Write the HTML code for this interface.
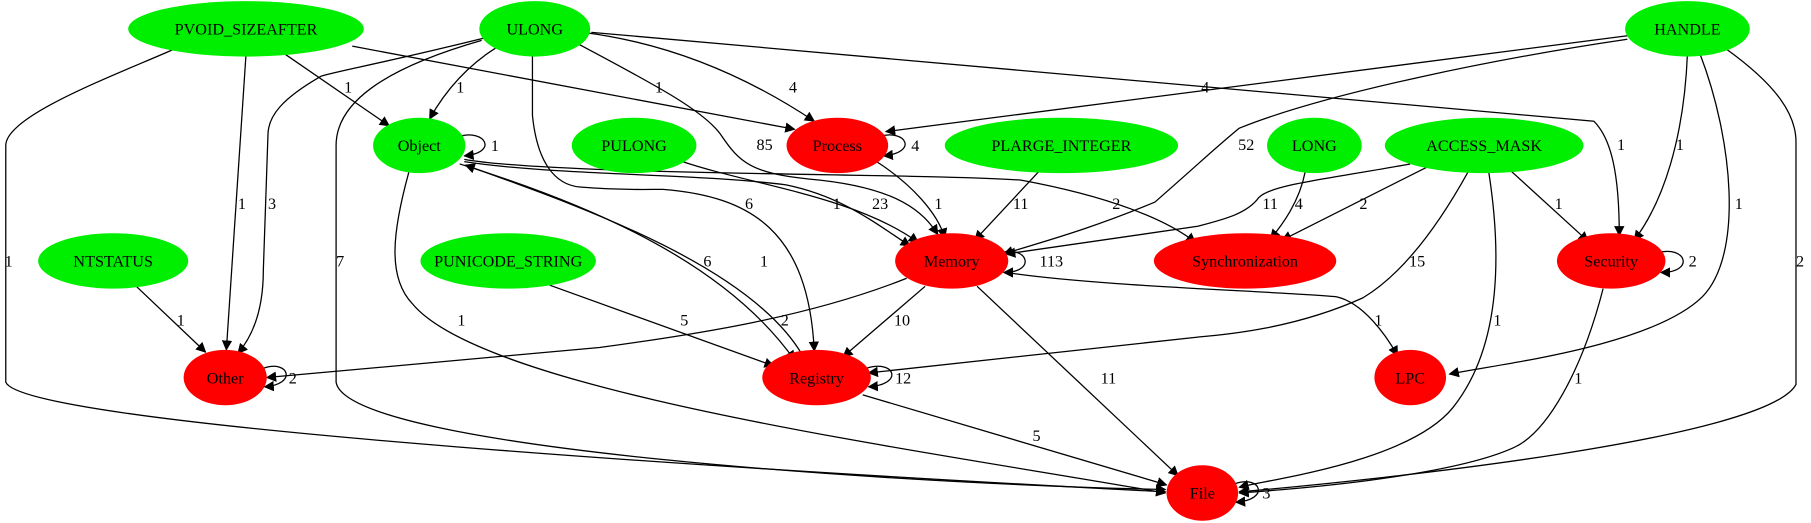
<!DOCTYPE html>
<html><head><meta charset="utf-8"><style>
html,body{margin:0;padding:0;background:#fff;}
svg{display:block;}
text{font-family:"Liberation Serif",serif;font-size:14px;fill:#000;}
.e{fill:none;stroke:#000;stroke-width:1.1;marker-end:url(#a);}
</style></head><body>
<svg width="1811" height="523" viewBox="0 0 1568 453" preserveAspectRatio="none" xmlns="http://www.w3.org/2000/svg">
<defs><marker id="a" viewBox="0 0 10 10" refX="9" refY="5" markerWidth="9" markerHeight="9" markerUnits="userSpaceOnUse" orient="auto"><path d="M0,0 L10,5 L0,10 z" fill="#000"/></marker></defs>
<g>
<path class="e" d="M152,42 C100,65 5,100 5,126 L5,331 C20,370 700,410 1009,426"/>
<path class="e" d="M213,47 L196,303"/>
<path class="e" d="M244,45 L337,109"/>
<path class="e" d="M305,40 L688,112"/>
<path class="e" d="M430,41 C400,60 382,85 372,103"/>
<path class="e" d="M419,33 C330,55 290,62 278,66 C245,85 232,100 232,117 L228,234 C228,270 218,292 206,306"/>
<path class="e" d="M417,35 C330,60 291,90 291,126 L291,331 C300,390 800,420 1009,424"/>
<path class="e" d="M495,35 C560,70 610,95 625,118 C640,140 650,150 700,155 C780,162 800,185 812,203"/>
<path class="e" d="M505,28 C560,35 630,55 705,105"/>
<path class="e" d="M512,28 L1380,105 C1395,120 1402,150 1402,204"/>
<path class="e" d="M461,48 L461,100 C465,140 480,160 502,162 C540,165 560,164 574,164 C650,170 700,200 705,304"/>
<path class="e" d="M1409,31 L767,114"/>
<path class="e" d="M1409,34 C1300,50 1150,80 1073,111 C1050,130 1040,140 1000,175 C940,200 900,210 869,220"/>
<path class="e" d="M1461,47 C1458,120 1440,175 1415,208"/>
<path class="e" d="M1472,47 C1500,120 1510,220 1474,257 C1430,300 1300,315 1255,324"/>
<path class="e" d="M1494,42 C1540,75 1555,100 1555,123 L1555,333 C1530,380 1200,415 1073,426"/>
<path class="e" d="M354,149 C340,200 335,240 357,263 C420,340 800,390 1009,427"/>
<path class="e" d="M402,140 C480,152 600,150 680,160 C730,170 760,195 788,213"/>
<path class="e" d="M402,138 C480,152 800,150 884,156 C960,170 1010,190 1035,210"/>
<path class="e" d="M398,142 C520,180 630,230 688,312"/>
<path class="e" d="M695,308 C650,230 500,178 403,143"/>
<path class="e" d="M591,140 C650,160 740,170 795,210"/>
<path class="e" d="M759,140 C790,160 812,185 818,206"/>
<path class="e" d="M899,149 L844,208"/>
<path class="e" d="M1130,149 C1125,175 1110,195 1100,207"/>
<path class="e" d="M1221,142 C1150,155 1100,160 1090,171 C1080,185 1060,190 1037,196 L871,220"/>
<path class="e" d="M1235,145 L1110,208"/>
<path class="e" d="M1271,149 C1240,205 1210,240 1180,258 C1120,285 1060,290 1037,292 L752,323"/>
<path class="e" d="M1289,149 C1300,220 1300,300 1258,353 C1220,400 1100,415 1073,422"/>
<path class="e" d="M1307,147 L1375,209"/>
<path class="e" d="M1388,250 C1370,320 1340,375 1310,388 C1250,415 1100,425 1073,427"/>
<path class="e" d="M118,248 L178,305"/>
<path class="e" d="M476,247 L670,317"/>
<path class="e" d="M785,241 C700,275 600,290 519,301 L231,327"/>
<path class="e" d="M801,248 L730,309"/>
<path class="e" d="M871,236 C950,248 1100,252 1157,257 C1180,262 1200,290 1210,308"/>
<path class="e" d="M846,248 L1020,412"/>
<path class="e" d="M747,342 L1010,420"/>
<path class="e" d="M398,118 C420,112 432,132 402,135"/>
<path class="e" d="M762,118 C785,112 795,132 765,135"/>
<path class="e" d="M866,219 C890,212 898,236 869,236"/>
<path class="e" d="M750,319 C775,311 783,333 752,335"/>
<path class="e" d="M228,319 C250,311 258,333 229,335"/>
<path class="e" d="M1435,219 C1460,212 1468,236 1438,236"/>
<path class="e" d="M1069,419 C1092,411 1100,433 1070,435"/>
</g>
<g>
<ellipse cx="213" cy="25" rx="102" ry="24" fill="#00ee00"/><text x="213" y="30" text-anchor="middle">PVOID_SIZEAFTER</text>
<ellipse cx="463" cy="25" rx="48" ry="24" fill="#00ee00"/><text x="463" y="30" text-anchor="middle">ULONG</text>
<ellipse cx="1461" cy="25" rx="54" ry="24" fill="#00ee00"/><text x="1461" y="30" text-anchor="middle">HANDLE</text>
<ellipse cx="363" cy="126" rx="40" ry="24" fill="#00ee00"/><text x="363" y="131" text-anchor="middle">Object</text>
<ellipse cx="549" cy="126" rx="54" ry="24" fill="#00ee00"/><text x="549" y="131" text-anchor="middle">PULONG</text>
<ellipse cx="725" cy="126" rx="44" ry="24" fill="#ff0000"/><text x="725" y="131" text-anchor="middle">Process</text>
<ellipse cx="919" cy="126" rx="101" ry="24" fill="#00ee00"/><text x="919" y="131" text-anchor="middle">PLARGE_INTEGER</text>
<ellipse cx="1138" cy="126" rx="41" ry="24" fill="#00ee00"/><text x="1138" y="131" text-anchor="middle">LONG</text>
<ellipse cx="1285" cy="126" rx="86" ry="24" fill="#00ee00"/><text x="1285" y="131" text-anchor="middle">ACCESS_MASK</text>
<ellipse cx="98" cy="226" rx="65" ry="24" fill="#00ee00"/><text x="98" y="231" text-anchor="middle">NTSTATUS</text>
<ellipse cx="440" cy="226" rx="76" ry="24" fill="#00ee00"/><text x="440" y="231" text-anchor="middle">PUNICODE_STRING</text>
<ellipse cx="824" cy="226" rx="49" ry="24" fill="#ff0000"/><text x="824" y="231" text-anchor="middle">Memory</text>
<ellipse cx="1078" cy="226" rx="79" ry="24" fill="#ff0000"/><text x="1078" y="231" text-anchor="middle">Synchronization</text>
<ellipse cx="1395" cy="226" rx="47" ry="24" fill="#ff0000"/><text x="1395" y="231" text-anchor="middle">Security</text>
<ellipse cx="195" cy="327" rx="36" ry="24" fill="#ff0000"/><text x="195" y="332" text-anchor="middle">Other</text>
<ellipse cx="707" cy="327" rx="47" ry="24" fill="#ff0000"/><text x="707" y="332" text-anchor="middle">Registry</text>
<ellipse cx="1221" cy="327" rx="31" ry="24" fill="#ff0000"/><text x="1221" y="332" text-anchor="middle">LPC</text>
<ellipse cx="1041" cy="427" rx="31" ry="24" fill="#ff0000"/><text x="1041" y="432" text-anchor="middle">File</text>
</g>
<g>
<text x="4" y="231">1</text><text x="206" y="181">1</text><text x="232" y="181">3</text><text x="298" y="80">1</text>
<text x="567" y="80">1</text><text x="395" y="80">1</text><text x="291" y="231">7</text><text x="655" y="130">85</text>
<text x="683" y="80">4</text><text x="1400" y="130">1</text><text x="1040" y="80">4</text><text x="1072" y="130">52</text>
<text x="1451" y="130">1</text><text x="1502" y="181">1</text><text x="1555" y="231">2</text><text x="396" y="282">1</text>
<text x="425" y="131">1</text><text x="789" y="131">4</text><text x="809" y="181">1</text><text x="877" y="181">11</text>
<text x="1121" y="181">4</text><text x="1093" y="181">11</text><text x="1177" y="181">2</text><text x="1220" y="231">15</text>
<text x="1293" y="282">1</text><text x="1346" y="181">1</text><text x="1462" y="231">2</text><text x="1363" y="332">1</text>
<text x="153" y="282">1</text><text x="589" y="282">5</text><text x="900" y="231">113</text><text x="676" y="282">2</text>
<text x="774" y="282">10</text><text x="1190" y="282">1</text><text x="953" y="332">11</text><text x="775" y="332">12</text>
<text x="894" y="382">5</text><text x="250" y="332">2</text><text x="1093" y="432">3</text><text x="963" y="181">2</text>
<text x="721" y="181">1</text><text x="755" y="181">23</text><text x="645" y="181">6</text><text x="609" y="231">6</text><text x="658" y="231">1</text>
</g>
</svg>
</body></html>
